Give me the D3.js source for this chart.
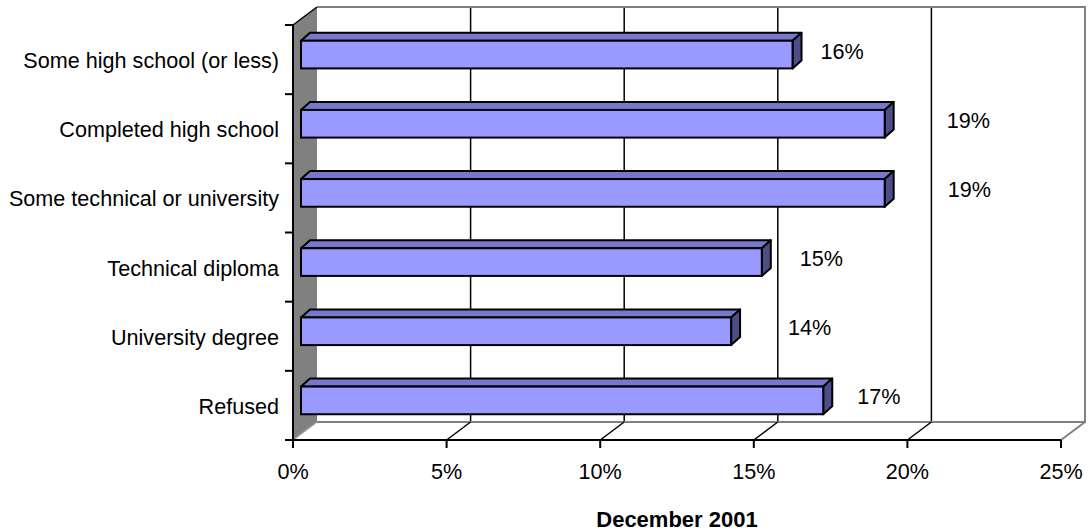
<!DOCTYPE html>
<html>
<head>
<meta charset="utf-8">
<script src="https://cdn.jsdelivr.net/npm/d3@7/dist/d3.min.js"></script>
<style>
  html, body { margin: 0; padding: 0; background: #fff; }
  svg text { font-family: "Liberation Sans", Arial, sans-serif; fill: #000; }
</style>
</head>
<body>
<svg id="chart" width="1088" height="531"></svg>
<script>
// ---- data ----
const categories = [
  "Some high school (or less)",
  "Completed high school",
  "Some technical or university",
  "Technical diploma",
  "University degree",
  "Refused"
];
const values = [16, 19, 19, 15, 14, 17];
const xTicks = [0, 5, 10, 15, 20, 25];
const axisTitle = "December 2001";

// ---- layout ----
const svg = d3.select("#chart");
const pLeft = 293, pRight = 1061, pTop = 25, pBottom = 440;
const depthX = 24, depthY = -18;     // 3D depth of the plot box
const barOffX = 8, barOffY = -5;     // bar front face offset into the box
const barDX = 9, barDY = -8;         // bar thickness (depth)
const fontSize = 21.6;
const labelNudge = [-16, 18, 19, -6, 13, -10]; // per-label horizontal placement tweak (px)

const x = d3.scaleLinear().domain([0, 25]).range([pLeft, pRight]);
const y = d3.scaleBand().domain(categories).range([pTop, pBottom]).padding(0);
const barH = y.bandwidth() * 0.4;

const g = svg.append("g");

// back wall gridlines (5..20)
g.selectAll("line.grid").data(xTicks.filter(t => t > 0 && t < 25)).enter()
  .append("line").attr("class", "grid")
  .attr("x1", d => x(d) + depthX).attr("x2", d => x(d) + depthX)
  .attr("y1", pTop + depthY).attr("y2", pBottom + depthY)
  .attr("stroke", "#000").attr("stroke-width", 1.5);

// back wall outline (gray): top edge, right edge, back floor line
g.append("path")
  .attr("d", `M${x(0) + depthX},${pTop + depthY} L${x(25) + depthX},${pTop + depthY} L${x(25) + depthX},${pBottom + depthY} L${x(0) + depthX},${pBottom + depthY}`)
  .attr("fill", "none").attr("stroke", "#808080").attr("stroke-width", 2);

// floor diagonals
g.selectAll("line.fd").data(xTicks.filter(t => t > 0)).enter()
  .append("line").attr("class", "fd")
  .attr("x1", d => x(d)).attr("y1", pBottom)
  .attr("x2", d => x(d) + depthX).attr("y2", pBottom + depthY)
  .attr("stroke", d => d === 25 ? "#808080" : "#000").attr("stroke-width", d => d === 25 ? 2 : 1.5);

// left wall (gray)
g.append("path")
  .attr("d", `M${pLeft},${pTop} L${pLeft + depthX},${pTop + depthY} L${pLeft + depthX},${pBottom + depthY} L${pLeft},${pBottom} Z`)
  .attr("fill", "#808080").attr("stroke", "none");
g.append("line")
  .attr("x1", pLeft).attr("y1", pTop).attr("x2", pLeft + depthX).attr("y2", pTop + depthY)
  .attr("stroke", "#000").attr("stroke-width", 1.5);
g.append("line")
  .attr("x1", pLeft).attr("y1", pBottom).attr("x2", pLeft + depthX).attr("y2", pBottom + depthY)
  .attr("stroke", "#a0a0a0").attr("stroke-width", 1.5);

// front axes
g.append("line").attr("x1", pLeft).attr("x2", pLeft).attr("y1", pTop).attr("y2", pBottom)
  .attr("stroke", "#000").attr("stroke-width", 2);
g.append("line").attr("x1", pLeft).attr("x2", pRight).attr("y1", pBottom).attr("y2", pBottom)
  .attr("stroke", "#000").attr("stroke-width", 2);

// y ticks at band boundaries
const yBounds = categories.map(c => y(c)).concat([pBottom]);
g.selectAll("line.yt").data(yBounds).enter().append("line").attr("class", "yt")
  .attr("x1", pLeft - 8).attr("x2", pLeft).attr("y1", d => d).attr("y2", d => d)
  .attr("stroke", "#000").attr("stroke-width", 2);

// x ticks and labels
g.selectAll("line.xt").data(xTicks).enter().append("line").attr("class", "xt")
  .attr("x1", d => x(d)).attr("x2", d => x(d)).attr("y1", pBottom).attr("y2", pBottom + 8)
  .attr("stroke", "#000").attr("stroke-width", 2);
g.selectAll("text.xl").data(xTicks).enter().append("text").attr("class", "xl")
  .attr("x", d => x(d)).attr("y", pBottom + 31)
  .attr("dominant-baseline", "central")
  .attr("text-anchor", "middle").attr("font-size", fontSize)
  .text(d => d + "%");

// category labels
g.selectAll("text.cl").data(categories).enter().append("text").attr("class", "cl")
  .attr("x", 279).attr("y", d => y(d) + y.bandwidth() / 2 + 1)
  .attr("dominant-baseline", "central")
  .attr("text-anchor", "end").attr("font-size", fontSize)
  .text(d => d);

// bars
const rows = categories.map((c, i) => ({ c, v: values[i], i }));
const bars = g.selectAll("g.bar").data(rows).enter().append("g").attr("class", "bar");
const fx0 = d => x(0) + barOffX;
const fx1 = d => x(d.v) + barOffX;
const fy0 = d => y(d.c) + y.bandwidth() / 2 + barOffY - barH / 2;
const fy1 = d => fy0(d) + barH;

// top face
bars.append("path")
  .attr("d", d => `M${fx0(d)},${fy0(d)} L${fx0(d) + barDX},${fy0(d) + barDY} L${fx1(d) + barDX},${fy0(d) + barDY} L${fx1(d)},${fy0(d)} Z`)
  .attr("fill", "#7777CC").attr("stroke", "#000").attr("stroke-width", 2).attr("stroke-linejoin", "round");
// side face
bars.append("path")
  .attr("d", d => `M${fx1(d)},${fy0(d)} L${fx1(d) + barDX},${fy0(d) + barDY} L${fx1(d) + barDX},${fy1(d) + barDY} L${fx1(d)},${fy1(d)} Z`)
  .attr("fill", "#4D4D88").attr("stroke", "#000").attr("stroke-width", 2).attr("stroke-linejoin", "round");
// front face
bars.append("rect")
  .attr("x", fx0).attr("y", fy0)
  .attr("width", d => fx1(d) - fx0(d)).attr("height", barH)
  .attr("fill", "#9999FF").attr("stroke", "#000").attr("stroke-width", 2);

// value labels
g.selectAll("text.vl").data(rows).enter()
  .append("text").attr("class", "vl")
  .attr("x", d => x(d.v) + 52 + labelNudge[d.i])
  .attr("y", d => y(d.c) + y.bandwidth() / 2 - 8.5)
  .attr("dominant-baseline", "central")
  .attr("text-anchor", "start").attr("font-size", fontSize)
  .text(d => d.v + "%");

// axis title
svg.append("text")
  .attr("x", (pLeft + pRight) / 2).attr("y", 519)
  .attr("dominant-baseline", "central")
  .attr("text-anchor", "middle").attr("font-size", 22).attr("font-weight", "bold")
  .text(axisTitle);
</script>
</body>
</html>
